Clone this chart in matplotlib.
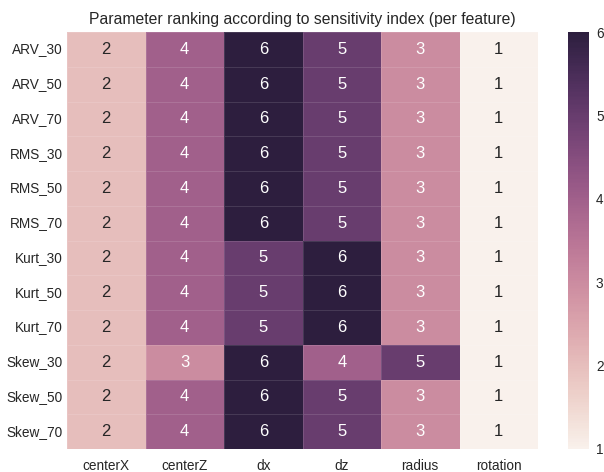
import numpy as np
import matplotlib
matplotlib.use("Agg")
import matplotlib.pyplot as plt
import seaborn as sns

sns.set_style("white")
plt.rcParams['font.family'] = ['Liberation Sans', 'DejaVu Sans']
plt.rcParams['text.color'] = '.15'
plt.rcParams['xtick.color'] = '.15'
plt.rcParams['ytick.color'] = '.15'

rows = ["ARV_30", "ARV_50", "ARV_70", "RMS_30", "RMS_50", "RMS_70",
        "Kurt_30", "Kurt_50", "Kurt_70", "Skew_30", "Skew_50", "Skew_70"]
cols = ["centerX", "centerZ", "dx", "dz", "radius", "rotation"]

# ranks per feature
ranks = [
    [2, 4, 6, 5, 3, 1],
    [2, 4, 6, 5, 3, 1],
    [2, 4, 6, 5, 3, 1],
    [2, 4, 6, 5, 3, 1],
    [2, 4, 6, 5, 3, 1],
    [2, 4, 6, 5, 3, 1],
    [2, 4, 5, 6, 3, 1],
    [2, 4, 5, 6, 3, 1],
    [2, 4, 5, 6, 3, 1],
    [2, 3, 6, 4, 5, 1],
    [2, 4, 6, 5, 3, 1],
    [2, 4, 6, 5, 3, 1],
]

fig = plt.figure(figsize=(6.04, 4.72), dpi=100)
top, bot = 32, 449
ax = fig.add_axes([67/604, 1-bot/472, (538-67)/604, (bot-top)/472])
cax = fig.add_axes([568/604, 1-bot/472, (589-568)/604, (bot-top)/472])

cmap = sns.cubehelix_palette(light=.95, as_cmap=True)
sns.heatmap(np.array(ranks), annot=True, fmt="d", cmap=cmap, ax=ax, cbar_ax=cax,
            xticklabels=cols, yticklabels=rows, annot_kws={"size": 12},
            vmin=1, vmax=6, linewidths=0.6, linecolor=(1, 1, 1, 0.12))
ax.set_title("Parameter ranking according to sensitivity index (per feature)",
             fontsize=11.3, pad=6)
ax.tick_params(axis='x', length=0, labelsize=9.8, pad=7)
ax.tick_params(axis='y', length=0, labelsize=9.8, pad=3)
plt.setp(ax.get_yticklabels(), rotation=0)
cax.tick_params(length=0, labelsize=9.8, pad=5)
cax.set_yticks([1, 2, 3, 4, 5, 6])
for sp in cax.spines.values():
    sp.set_visible(False)

fig.savefig("out.png", dpi=100)
